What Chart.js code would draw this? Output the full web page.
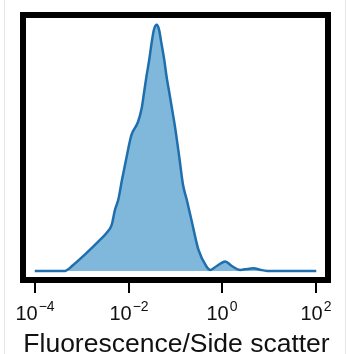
<!DOCTYPE html>
<html>
<head>
<meta charset="utf-8">
<script src="https://cdn.jsdelivr.net/npm/chart.js@4/dist/chart.umd.min.js"></script>
<style>
  html, body { margin: 0; padding: 0; background: #fff; }
  #wrap { width: 347px; height: 354px; }
</style>
</head>
<body>
<div id="wrap"><canvas id="kde" width="347" height="354"></canvas></div>
<script>
// log10(fluorescence / side scatter) and the density (peak = 1)
const logRatio = [-4.0, -3.68, -3.36, -3.18, -2.90, -2.61, -2.47, -2.36, -2.29, -2.22, -2.14,
    -2.04, -1.94, -1.80, -1.72, -1.67, -1.62, -1.56, -1.51, -1.46, -1.40, -1.35, -1.30,
    -1.24, -1.19, -1.13, -1.07, -1.01, -0.96, -0.92, -0.84, -0.76, -0.66, -0.51, -0.34,
    -0.26, -0.12, 0.06, 0.20, 0.38, 0.53, 0.66, 0.80, 0.95, 1.44, 2.0];
const density = [0, 0, 0, 0.024, 0.072, 0.126, 0.154, 0.187, 0.248, 0.289, 0.370,
    0.465, 0.552, 0.605, 0.662, 0.725, 0.789, 0.858, 0.925, 0.980, 1.0, 0.980, 0.925,
    0.858, 0.789, 0.722, 0.654, 0.585, 0.518, 0.463, 0.350, 0.289, 0.207, 0.085, 0.018,
    0.004, 0.020, 0.038, 0.020, 0.004, 0.008, 0.011, 0.005, 0, 0, 0];
const tickExponents = [-4, -2, 0, 2];
const axisTitle = 'Fluorescence/Side scatter';

const points = logRatio.map((x, i) => ({ x: x, y: density[i] }));

// frame, tick marks, 10^n labels and axis title
const axesPlugin = {
    id: 'axesPlugin',
    beforeDraw(chart) {
        const ctx = chart.ctx;
        ctx.save();
        ctx.strokeStyle = '#e6e6e6';
        ctx.lineWidth = 1;
        ctx.beginPath();
        ctx.moveTo(4.5, 0); ctx.lineTo(4.5, 354);
        ctx.moveTo(345.5, 0); ctx.lineTo(345.5, 354);
        ctx.stroke();
        ctx.restore();
    },
    afterDraw(chart) {
        const ctx = chart.ctx;
        const a = chart.chartArea;
        const xs = chart.scales.x;
        ctx.save();
        ctx.strokeStyle = '#000';
        ctx.lineWidth = 6;
        ctx.strokeRect(a.left, a.top, a.right - a.left, a.bottom - a.top);

        ctx.lineWidth = 2;
        ctx.fillStyle = '#111';
        tickExponents.forEach(e => {
            const px = Math.round(xs.getPixelForValue(e));
            ctx.beginPath();
            ctx.moveTo(px, a.bottom + 3);
            ctx.lineTo(px, a.bottom + 13);
            ctx.stroke();

            const base = '10';
            const sup = e < 0 ? '\u2212' + Math.abs(e) : String(e);
            ctx.font = '20px "Liberation Sans", Arial, sans-serif';
            const wb = ctx.measureText(base).width;
            ctx.font = '14px "Liberation Sans", Arial, sans-serif';
            const ws = ctx.measureText(sup).width;
            const left = px - (wb + ws + 1) / 2;
            ctx.textBaseline = 'alphabetic';
            ctx.textAlign = 'left';
            ctx.font = '20px "Liberation Sans", Arial, sans-serif';
            ctx.fillText(base, left, 320);
            ctx.font = '14px "Liberation Sans", Arial, sans-serif';
            ctx.fillText(sup, left + wb + 1, 311);
        });

        ctx.font = '26.5px "Liberation Sans", Arial, sans-serif';
        ctx.textAlign = 'center';
        ctx.fillText(axisTitle, (a.left + a.right) / 2 + 1, 352);
        ctx.restore();
    }
};

new Chart(document.getElementById('kde'), {
    type: 'line',
    data: {
        datasets: [{
            data: points,
            borderColor: '#1f6fae',
            backgroundColor: '#80b8db',
            borderWidth: 2.5,
            fill: 'origin',
            pointRadius: 0,
            cubicInterpolationMode: 'monotone'
        }]
    },
    options: {
        responsive: false,
        animation: false,
        layout: { padding: { left: 23, right: 19, top: 15, bottom: 74 } },
        scales: {
            x: { type: 'linear', min: -4.25, max: 2.25, display: false },
            y: { min: -0.037, max: 1.04, display: false }
        },
        plugins: { legend: { display: false }, tooltip: { enabled: false } }
    },
    plugins: [axesPlugin]
});
</script>
</body>
</html>
